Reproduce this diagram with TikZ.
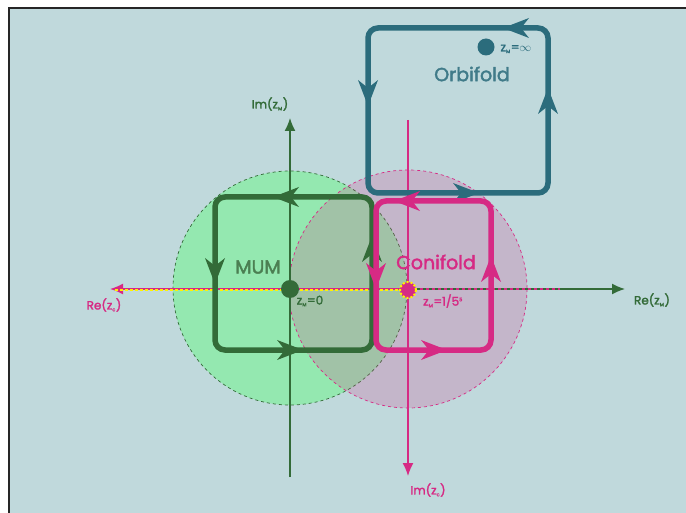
\documentclass[tikz,border=0pt]{standalone}
\usepackage{fontspec}
\setmainfont{Poppins}[FakeBold=2]
\usetikzlibrary{arrows.meta}
\definecolor{bg}{HTML}{C0D9DC}
\definecolor{mumgreen}{HTML}{336B38}
\definecolor{mumtext}{HTML}{4B7F52}
\definecolor{mumfill}{HTML}{94E8B0}
\definecolor{conipink}{HTML}{D62A84}
\definecolor{orbiblue}{HTML}{2B6C7C}
\definecolor{cutyellow}{HTML}{FFF200}
\tikzset{
  monodromy/.style={
    line width=5.5pt,
    rounded corners=10pt,
  },
  axis/.style={
    line width=1.4pt,
    -{Latex[length=13pt 0 0,width=11pt 0 0]},
  },
  label/.style={
    node font=\fontsize{12}{14}\selectfont,
    inner sep=0,
  },
  region/.style={
    node font=\fontsize{19}{22}\selectfont,
    inner sep=0,
  },
}
\newcommand\zsub[1]{z\textsubscript{\fontsize{5}{5}\selectfont #1}}
% tip of a loop arrow: colour, tip x, tip y, direction x, direction y
\newcommand\flowtip[5]{%
  \fill [#1] (#2,#3) -- ({#2-26*#4-10*#5},{#3-26*#5+10*#4})
    -- ({#2-18*#4},{#3-18*#5}) -- ({#2-26*#4+10*#5},{#3-26*#5-10*#4}) -- cycle;}

\begin{document}
\begin{tikzpicture}[x=1pt,y=-1pt]
  \useasboundingbox (0,0) rectangle (686,513);
  \fill [white] (0,0) rectangle (686,513);
  \fill [bg] (9,8) rectangle (686,513);
  \draw [black!85, line width=2pt] (9,513) -- (9,8) -- (686,8);

  % regions round the two points
  \fill [mumfill] (290,288) circle (117);
  \draw [mumgreen, dashed, line width=0.7pt] (290,288) circle (117);
  \fill [conipink, opacity=0.2] (408,289) circle (119);
  \draw [conipink, dashed, line width=0.7pt] (408,289) circle (119);

  % axes
  \draw [axis, mumgreen] (115,289) -- (625,289);
  \draw [axis, conipink] (408,289) -- (110,289);
  \draw [conipink, dashed, line width=1.4pt] (408,289) -- (560,289);
  \draw [axis, mumgreen] (290,477) -- (290,118);
  \draw [axis, conipink] (408,120) -- (408,476);
  \draw [cutyellow, line width=2.5pt, dash pattern=on 2.5pt off 2.5pt] (115,290) -- (400,290);

  % loops
  \draw [monodromy, orbiblue] (368,28) rectangle (548,193);
  \flowtip{orbiblue}{503}{28}{-1}{0}
  \flowtip{orbiblue}{368}{106}{0}{1}
  \flowtip{orbiblue}{479}{193}{1}{0}
  \flowtip{orbiblue}{548}{88}{0}{-1}

  \draw [monodromy, mumgreen] (215,197) rectangle (372,350);
  \flowtip{mumgreen}{273}{197}{-1}{0}
  \flowtip{mumgreen}{215}{284}{0}{1}
  \flowtip{mumgreen}{303}{350}{1}{0}
  \flowtip{mumgreen}{372}{236}{0}{-1}

  \draw [monodromy, conipink] (376,201) rectangle (491,350);
  \flowtip{conipink}{394}{201}{-1}{0}
  \flowtip{conipink}{376}{289}{0}{1}
  \flowtip{conipink}{447}{350}{1}{0}
  \flowtip{conipink}{491}{256}{0}{-1}

  % special points
  \fill [mumgreen] (290,289) circle (9);
  \fill [conipink] (408,290) circle (8);
  \draw [cutyellow, line width=2pt, dash pattern=on 2pt off 2pt] (408,290) circle (8);
  \fill [orbiblue] (486,47) circle (8.5);

  % texts
  \node (orbifold) [region, text=orbiblue!90!white] at (472,74) {Orbifold};
  \node (mum)      [region, text=mumtext]          at (258,267) {MUM};
  \node (conifold) [region, text=conipink]         at (436,262) {Conifold};
  \node (zinf)  [label, text=orbiblue] at (516,49)  {\zsub{M}=$\infty$};
  \node (zzero) [label, text=mumgreen] at (310,301) {\zsub{M}=0};
  \node (zconi) [label, text=conipink] at (443,301) {\zsub{M}=1/5\textsuperscript{\fontsize{5}{5}\selectfont 5}};
  \node (remum) [label, text=mumgreen] at (652,300) {Re(\zsub{M})};
  \node (recon) [label, text=conipink] at (104,305) {Re(\zsub{c})};
  \node (immum) [label, text=mumgreen] at (270,104) {Im(\zsub{M})};
  \node (imcon) [label, text=conipink] at (428,490) {Im(\zsub{c})};
\end{tikzpicture}
\end{document}
